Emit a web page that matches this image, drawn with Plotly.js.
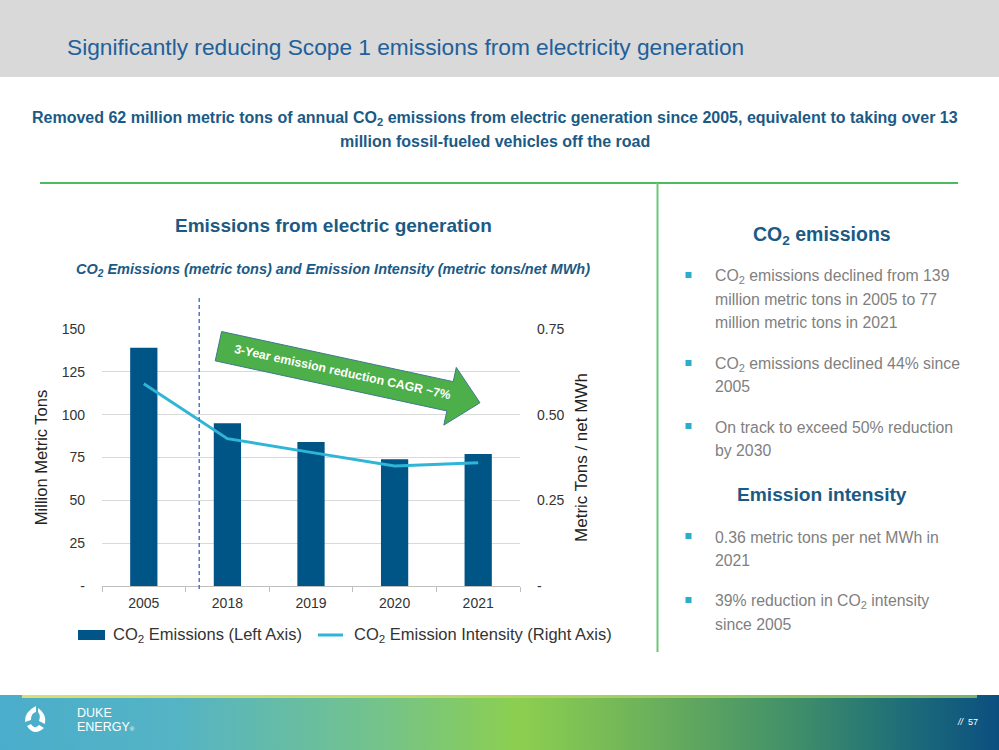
<!DOCTYPE html>
<html>
<head>
<meta charset="utf-8">
<script src="https://cdn.plot.ly/plotly-3.0.1.min.js"></script>
<style>
  html, body { margin: 0; padding: 0; width: 999px; height: 750px; overflow: hidden; background: #ffffff; }
  #header { position: absolute; left: 0; top: 0; width: 999px; height: 77px; background: #d9d9d9; }
  #footer { position: absolute; left: 0; top: 695px; width: 999px; height: 55px;
    background: linear-gradient(90deg, #4aadcb 0%, #55b4c4 18%, #74c38a 38%, #8ccf4f 52%, #6fb35a 64%, #3f8e6a 80%, #1f6f78 90%, #0b4f80 100%); }
  #footline { position: absolute; left: 22px; top: 695px; width: 955px; height: 3px;
    background: linear-gradient(90deg, #d6df70 0%, #c4d96a 40%, #9ccb5c 70%, #7ab06a 100%); }
  #chart { position: absolute; left: 0; top: 0; width: 999px; height: 750px; }
</style>
</head>
<body>
<div id="header"></div>
<div id="footer"></div>
<div id="footline"></div>
<div id="chart"></div>
<script>
// ---- data ----
const categories = ['2005', '2018', '2019', '2020', '2021'];
const emissions = [139, 95, 84, 74, 77];            // million metric tons (left axis)
const intensity = [0.59, 0.43, 0.39, 0.35, 0.36];   // metric tons / net MWh (right axis)
const leftTickVals = [0, 25, 50, 75, 100, 125, 150];
const leftTickText = ['-', '25', '50', '75', '100', '125', '150'];
const rightTickVals = [0, 0.25, 0.5, 0.75];
const rightTickText = ['-', '0.25', '0.50', '0.75'];
const seriesNames = ['CO<sub>2</sub> Emissions (Left Axis)', 'CO<sub>2</sub> Emission Intensity (Right Axis)'];

// ---- layout geometry (pixels of the 999x750 page) ----
const W = 999, H = 750;
const PL = 102, PR = 520, PT = 329, PB = 586;
const X = px => (px - PL) / (PR - PL);
const Y = py => (PB - py) / (PB - PT);

const NARROW = 'Liberation Sans, Arial, sans-serif';
const ARIAL = 'Liberation Sans, Arial, sans-serif';
const BLUE = '#1b5a85';
const GRAY = '#7f7f7f';
const TXT = '#333333';
const BAR = '#005587';
const LINE = '#2fb5d6';

// arrow outline
function arrowPath() {
  const m = [218.4, 346.2], ang = 12.2 * Math.PI / 180;
  const d = [Math.cos(ang), Math.sin(ang)], n = [-Math.sin(ang), Math.cos(ang)];
  const hw = 15, base = 237, hh = 29.5, tip = 267.6;
  const P = (a, b) => [m[0] + d[0] * a + n[0] * b, m[1] + d[1] * a + n[1] * b];
  const pts = [P(0, -hw), P(base, -hw), P(base, -hh), P(tip, 0), P(base, hh), P(base, hw), P(0, hw)];
  return pts.map((p, i) => (i ? 'L' : 'M') + X(p[0]).toFixed(4) + ',' + Y(p[1]).toFixed(4)).join(' ') + ' Z';
}
function pathFrom(pts) {
  return pts.map(p => (typeof p === 'string' ? p : (X(p[0]).toFixed(4) + ',' + Y(p[1]).toFixed(4)))).join(' ');
}

const traces = [
  {
    type: 'bar', x: categories, y: emissions, name: seriesNames[0],
    marker: { color: BAR }, hoverinfo: 'skip', showlegend: false
  },
  {
    type: 'scatter', mode: 'lines', x: categories, y: intensity, yaxis: 'y2',
    name: seriesNames[1],
    line: { color: LINE, width: 3 }, hoverinfo: 'skip', showlegend: false
  }
];

const ann = [];
function text(x, y, t, size, opts) {
  ann.push(Object.assign({
    xref: 'paper', yref: 'paper', x: X(x), y: Y(y), text: t, showarrow: false,
    xanchor: 'center', yanchor: 'middle',
    font: { family: NARROW, size: size, color: BLUE }
  }, opts || {}));
}

// header & subtitle
text(65, 47, 'Significantly reducing Scope 1 emissions from electricity generation', 22.7, { xanchor: 'left', font: { family: NARROW, size: 22.7, color: '#21609a' } });
text(495, 118, '<b>Removed 62 million metric tons of annual CO<sub>2</sub> emissions from electric generation since 2005, equivalent to taking over 13</b>', 16);
text(495, 142, '<b>million fossil-fueled vehicles off the road</b>', 16);

// chart titles
text(333, 225, '<b>Emissions from electric generation</b>', 19);
text(333, 270, '<b><i>CO<sub>2</sub> Emissions (metric tons) and Emission Intensity (metric tons/net MWh)</i></b>', 14.5);

// arrow text
text(342, 372, '<b>3-Year emission reduction CAGR ~7%</b>', 12.3, { textangle: 12.2, font: { family: NARROW, size: 12.3, color: '#ffffff' } });

// custom legend (wide swatches as in the original)
const shapes = [];
shapes.push({ type: 'rect', xref: 'paper', yref: 'paper', x0: X(78), x1: X(105), y0: Y(640), y1: Y(630), fillcolor: BAR, line: { width: 0 } });
text(111, 635, seriesNames[0], 16.5, { xanchor: 'left', font: { family: ARIAL, size: 16.5, color: TXT } });
shapes.push({ type: 'line', xref: 'paper', yref: 'paper', x0: X(318), x1: X(343), y0: Y(635), y1: Y(635), line: { color: LINE, width: 3 } });
text(352, 635, seriesNames[1], 16.5, { xanchor: 'left', font: { family: ARIAL, size: 16.5, color: TXT } });

// right panel
text(822, 235, '<b>CO<sub>2</sub> emissions</b>', 19.5);
text(822, 494, '<b>Emission intensity</b>', 19.2);
const bullets = [
  [[276, 'CO<sub>2</sub> emissions declined from 139'], [299, 'million metric tons in 2005 to 77'], [322, 'million metric tons in 2021']],
  [[364, 'CO<sub>2</sub> emissions declined 44% since'], [386, '2005']],
  [[427, 'On track to exceed 50% reduction'], [450, 'by 2030']],
  [[537, '0.36 metric tons per net MWh in'], [560, '2021']],
  [[601, '39% reduction in CO<sub>2</sub> intensity'], [624, 'since 2005']]
];
bullets.forEach(b => {
  b.forEach(line => {
    text(713, line[0], line[1], 15.8, { xanchor: 'left', align: 'left', font: { family: NARROW, size: 15.8, color: GRAY } });
  });
  const y0 = b[0][0];
  shapes.push({ type: 'rect', xref: 'paper', yref: 'paper', x0: X(685.5), x1: X(691.5), y0: Y(y0 - 4), y1: Y(y0 + 2),
    fillcolor: '#2aadcb', line: { width: 0 } });
});

// footer
text(75, 713, 'DUKE', 12.5, { xanchor: 'left', font: { family: NARROW, size: 12.5, color: '#ffffff' } });
text(75, 727, 'ENERGY<span style="font-size:6px">®</span>', 12.5, { xanchor: 'left', font: { family: NARROW, size: 12.5, color: '#ffffff' } });
text(968, 722, '<i>//</i>  57', 9, { xanchor: 'center', font: { family: NARROW, size: 9, color: '#ffffff' } });

// separators
shapes.push({ type: 'line', xref: 'paper', yref: 'paper', x0: X(40), x1: X(958), y0: Y(183), y1: Y(183), line: { color: '#4cbb5f', width: 2 } });
shapes.push({ type: 'line', xref: 'paper', yref: 'paper', x0: X(657.5), x1: X(657.5), y0: Y(183), y1: Y(652), line: { color: '#6cc77a', width: 2 } });
// dashed divider between 2005 and 2018
shapes.push({ type: 'line', xref: 'x', yref: 'paper', x0: 0.663, x1: 0.663, y0: Y(298), y1: Y(592), line: { color: '#4a78d0', width: 1.5, dash: '4px,3px' } });
// green arrow
shapes.push({ type: 'path', xref: 'paper', yref: 'paper', path: arrowPath(), fillcolor: '#4daf4a', line: { color: '#3d7a8c', width: 1 } });
// logo mark (simplified)
shapes.push({ type: 'path', xref: 'paper', yref: 'paper',
  path: pathFrom(['M', [36, 706], 'Q', [24, 712], [25, 722], 'L', [31, 720], 'Q', [31, 713], [36, 712], 'Z']),
  fillcolor: '#ffffff', line: { width: 0 } });
shapes.push({ type: 'path', xref: 'paper', yref: 'paper',
  path: pathFrom(['M', [38, 708], 'Q', [47, 714], [45, 724], 'L', [39, 721], 'Q', [41, 715], [38, 712], 'Z']),
  fillcolor: '#ffffff', line: { width: 0 } });
shapes.push({ type: 'path', xref: 'paper', yref: 'paper',
  path: pathFrom(['M', [27, 726], 'Q', [34, 737], [44, 728], 'L', [39, 725], 'Q', [34, 730], [31, 724], 'Z']),
  fillcolor: '#ffffff', line: { width: 0 } });

const layout = {
  width: W, height: H,
  margin: { l: PL, r: W - PR, t: PT, b: H - PB, pad: 0 },
  paper_bgcolor: 'rgba(0,0,0,0)', plot_bgcolor: 'rgba(0,0,0,0)',
  showlegend: false,
  bargap: 0.674,
  xaxis: {
    type: 'category', categoryorder: 'array', categoryarray: categories,
    showgrid: false, showline: true, linecolor: '#bfbfbf', linewidth: 1,
    ticks: 'outside', tickson: 'boundaries', ticklen: 5, tickcolor: '#bfbfbf',
    tickfont: { family: ARIAL, size: 14, color: TXT }, ticklabelstandoff: 4,
    fixedrange: true
  },
  yaxis: {
    range: [0, 150], tickvals: leftTickVals, ticktext: leftTickText,
    showgrid: true, gridcolor: '#d9d9d9', gridwidth: 1, zeroline: false, showline: false,
    ticks: '', ticklabelstandoff: 16,
    tickfont: { family: ARIAL, size: 14, color: TXT },
    title: { text: 'Million Metric Tons', font: { family: ARIAL, size: 16.5, color: '#222222' }, standoff: 9 },
    fixedrange: true
  },
  yaxis2: {
    overlaying: 'y', side: 'right', range: [0, 0.75], tickvals: rightTickVals, ticktext: rightTickText,
    showgrid: false, zeroline: false, showline: false, ticks: '', ticklabelstandoff: 16,
    tickfont: { family: ARIAL, size: 14, color: TXT },
    title: { text: 'Metric Tons / net MWh', font: { family: ARIAL, size: 17, color: '#222222' }, standoff: 11 },
    fixedrange: true
  },
  annotations: ann,
  shapes: shapes
};

Plotly.newPlot('chart', traces, layout, { displayModeBar: false, staticPlot: true });
</script>
</body>
</html>
